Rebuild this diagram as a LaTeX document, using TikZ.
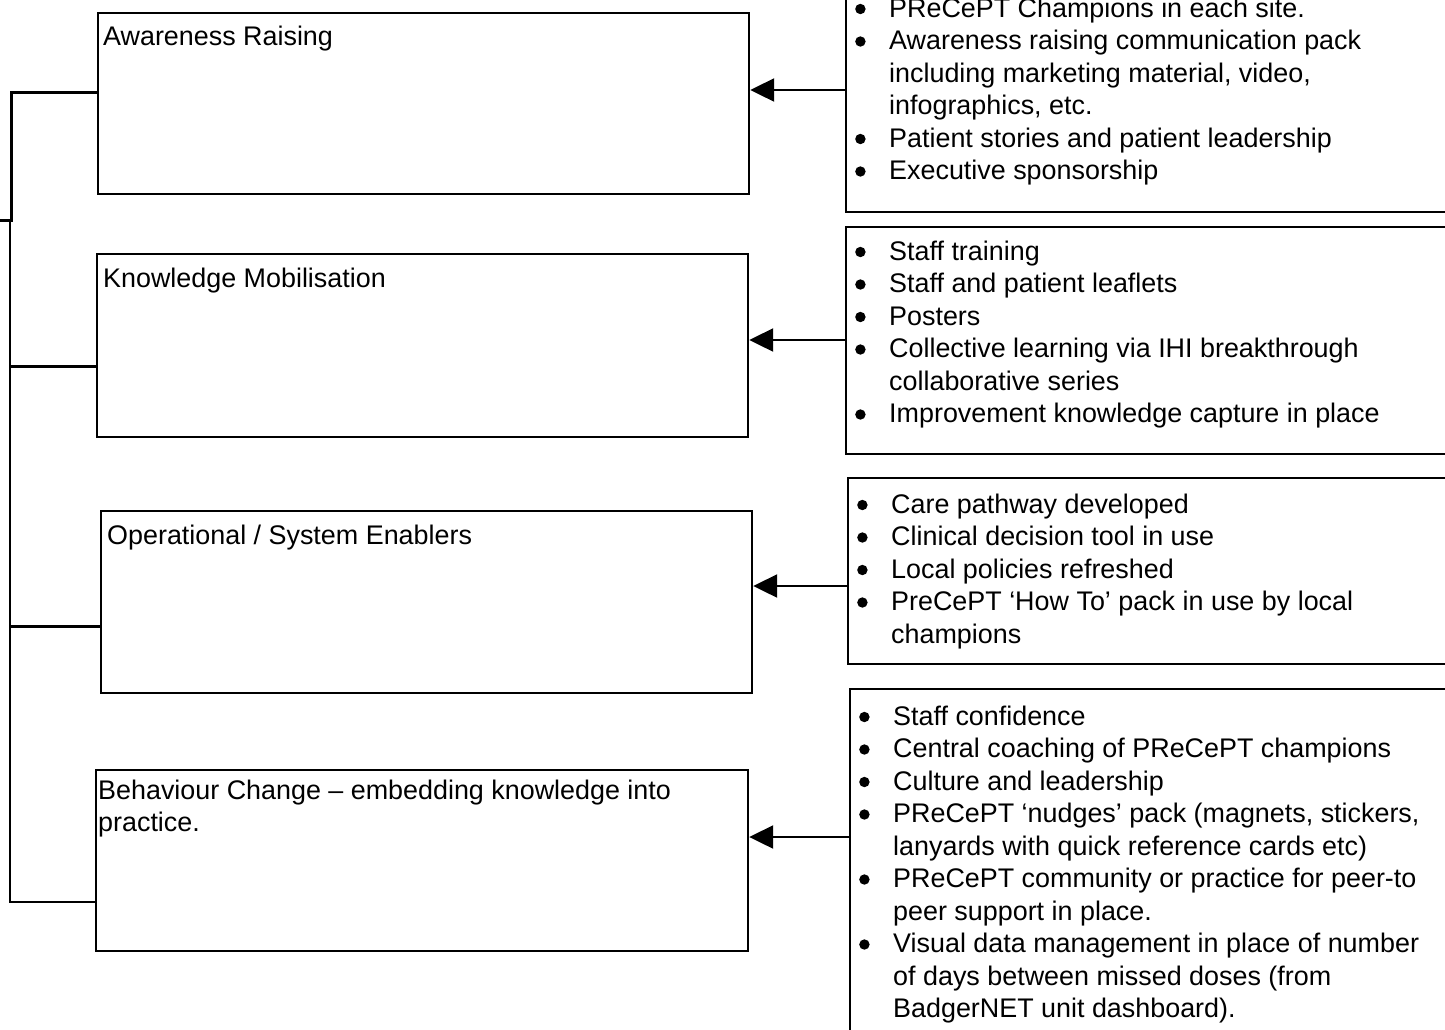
\documentclass[tikz,border=0pt]{standalone}
\usepackage{fontspec}
\setmainfont{Liberation Sans}
\usetikzlibrary{arrows.meta}

% round bullet mark used in the lists
\newcommand\dotmark{\tikz[baseline=0pt]\fill (0pt,8pt) circle[radius=5.2pt];}
% one list entry with hanging indent
\newcommand\itm[1]{\par\noindent\hangindent=44pt\hangafter=1%
  \makebox[44pt][l]{\hspace{10pt}\dotmark}#1\par}
% block of list entries, first baseline on the node's base
\newcommand\itemblock[1]{\vtop{\hsize=800pt\parindent=0pt\parskip=0pt\raggedright #1}}

\begin{document}
\begin{tikzpicture}[x=1pt,y=-1pt,
  box/.style={draw, line width=2.2pt, inner sep=0pt, anchor=north west},
  txt/.style={inner sep=0pt, anchor=base west, font=\fontsize{26.9}{32.5}\selectfont},
  arr/.style={line width=2.2pt, -{Triangle[length=24pt,width=23pt]}},
  topline/.style={line width=3pt},
  spine/.style={line width=2.2pt},
  stub/.style={line width=3pt}]
\useasboundingbox (0,0) rectangle (1445,1029);
\clip (0,0) rectangle (1445,1029);

% left-hand boxes
\node[box, minimum width=651.5pt, minimum height=181.5pt] (b1) at (96.5,11.5) {};
\node[box, minimum width=651pt, minimum height=183pt] (b2) at (96,253) {};
\node[box, minimum width=651.5pt, minimum height=182pt] (b3) at (99.5,510) {};
\node[box, minimum width=652pt, minimum height=181pt] (b4) at (95,769) {};

\node[txt] (t1) at (103,45) {Awareness Raising};
\node[txt] (t2) at (103,287) {Knowledge Mobilisation};
\node[txt] (t3) at (107,544) {Operational / System Enablers};
\node[txt] (t4) at (98,799) {\vtop{\hsize=800pt\parindent=0pt\raggedright
  Behaviour Change – embedding knowledge into\newline practice.}};

% right-hand boxes
\node[box, minimum width=615pt, minimum height=231pt] (r1) at (845,-20) {};
\node[box, minimum width=615pt, minimum height=227pt] (r2) at (845,226) {};
\node[box, minimum width=613pt, minimum height=186pt] (r3) at (847,477) {};
\node[box, minimum width=611pt, minimum height=362pt] (r4) at (849,688) {};

\node[txt] (l1) at (845,17) {\itemblock{%
  \itm{PReCePT Champions in each site.}
  \itm{Awareness raising communication pack\newline including marketing material, video,\newline infographics, etc.}
  \itm{Patient stories and patient leadership}
  \itm{Executive sponsorship}}};

\node[txt] (l2) at (845,260) {\itemblock{%
  \itm{Staff training}
  \itm{Staff and patient leaflets}
  \itm{Posters}
  \itm{Collective learning via IHI breakthrough\newline collaborative series}
  \itm{Improvement knowledge capture in place}}};

\node[txt] (l3) at (847,513) {\itemblock{%
  \itm{Care pathway developed}
  \itm{Clinical decision tool in use}
  \itm{Local policies refreshed}
  \itm{PreCePT ‘How To’ pack in use by local\newline champions}}};

\node[txt] (l4) at (849,725) {\itemblock{%
  \itm{Staff confidence}
  \itm{Central coaching of PReCePT champions}
  \itm{Culture and leadership}
  \itm{PReCePT ‘nudges’ pack (magnets, stickers,\newline lanyards with quick reference cards etc)}
  \itm{PReCePT community or practice for peer-to\newline peer support in place.}
  \itm{Visual data management in place of number\newline of days between missed doses (from\newline BadgerNET unit dashboard).}}};

% arrows from the lists to the boxes
\coordinate (a1) at (800,90);
\coordinate (a2) at (800,340);
\coordinate (a3) at (800,586);
\coordinate (a4) at (800,837);
\draw[arr] (a1 -| r1.west) -- (a1 -| b1.east);
\draw[arr] (a2 -| r2.west) -- (a2 -| b2.east);
\draw[arr] (a3 -| r3.west) -- (a3 -| b3.east);
\draw[arr] (a4 -| r4.west) -- (a4 -| b4.east);

% bracket on the left
\coordinate (k0) at (0,220);
\coordinate (k1) at (11,220);
\coordinate (h1) at (11,92);
\draw[topline] (k0) -- (k1) -- (h1) -- (h1 -| b1.west);
\coordinate (sp) at (10,220);
\coordinate (h2) at (10,366);
\coordinate (h3) at (10,626);
\coordinate (h4) at (10,902);
\draw[spine] (sp) -- (h4) -- (h4 -| b4.west);
\draw[stub] (h2) -- (h2 -| b2.west);
\draw[stub] (h3) -- (h3 -| b3.west);
\end{tikzpicture}
\end{document}
